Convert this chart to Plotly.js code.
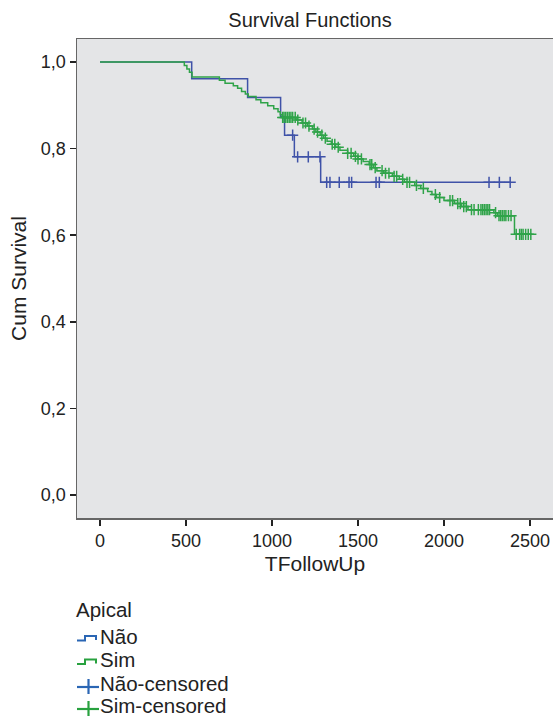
<!DOCTYPE html>
<html>
<head>
<meta charset="utf-8">
<script src="https://cdn.plot.ly/plotly-3.0.1.min.js"></script>
<style>html,body{margin:0;padding:0;background:#fff;}#chart{width:553px;height:716px;}</style>
</head>
<body>
<div id="chart"></div>
<script>
// ---- Data (Kaplan-Meier steps) ----
const naoTimes = [0, 533, 858, 1050, 1073, 1130, 1283, 2390];
const naoSurv  = [1.000, 0.961, 0.918, 0.874, 0.831, 0.781, 0.722, 0.722];
const naoCensoredTimes = [1120, 1149, 1211, 1279, 1318, 1337, 1391, 1448, 1463, 1605, 1624, 2262, 2322, 2385];

const simTimes = [0, 490, 505, 520, 535, 694, 727, 775, 800, 823, 845, 862, 907, 935, 975, 1010, 1035, 1048, 1060,
  1140, 1175, 1205, 1235, 1255, 1280, 1300, 1320, 1345, 1370, 1395, 1440, 1475, 1500, 1530, 1565, 1590, 1610,
  1650, 1700, 1740, 1770, 1830, 1865, 1905, 1930, 1955, 2000, 2060, 2100, 2140, 2290, 2310, 2410, 2510];
const simSurv  = [1.000, 0.992, 0.984, 0.976, 0.965, 0.958, 0.951, 0.945, 0.939, 0.932, 0.926, 0.920, 0.913, 0.906, 0.899, 0.892, 0.885, 0.878, 0.872,
  0.866, 0.859, 0.852, 0.845, 0.838, 0.831, 0.824, 0.817, 0.810, 0.803, 0.796, 0.789, 0.782, 0.776, 0.770, 0.763, 0.756, 0.749,
  0.743, 0.736, 0.729, 0.722, 0.715, 0.708, 0.701, 0.694, 0.687, 0.680, 0.673, 0.666, 0.659, 0.652, 0.645, 0.602, 0.602];
const simCensoredTimes = [1062, 1070, 1080, 1090, 1100, 1110, 1120, 1135, 1150, 1180, 1195, 1215, 1245, 1265, 1290, 1310,
  1350, 1365, 1385, 1440, 1460, 1485, 1500, 1520, 1570, 1580, 1600, 1640, 1660, 1680, 1710, 1725, 1760, 1785, 1800,
  1840, 1880, 1950, 1975, 2035, 2050, 2080, 2095, 2115, 2130, 2160, 2175, 2200, 2215, 2225, 2235, 2245, 2255, 2265,
  2300, 2320, 2330, 2340, 2350, 2360, 2375, 2390, 2420, 2440, 2450, 2460, 2475, 2490, 2505];

const groupNames = ['Não', 'Sim'];
const legendTitle = 'Apical';
const legendLabels = ['Não', 'Sim', 'Não-censored', 'Sim-censored'];
const yTickVals = [0, 0.2, 0.4, 0.6, 0.8, 1.0];
const yTickText = ['0,0', '0,2', '0,4', '0,6', '0,8', '1,0'];
const xTickVals = [0, 500, 1000, 1500, 2000, 2500];

// survival value of a step curve at time t (last step at or before t)
function survAt(times, surv, t) {
  let s = surv[0];
  for (let i = 0; i < times.length; i++) { if (times[i] <= t) s = surv[i]; }
  return s;
}

const blue = '#3f52a8';
const green = '#2fa349';
const legBlue = '#2a66b4';
const legGreen = '#28a13f';

const traces = [
  {x: naoTimes, y: naoSurv, type: 'scatter', mode: 'lines', line: {shape: 'hv', color: blue, width: 1.5}, name: groupNames[0]},
  {x: simTimes, y: simSurv, type: 'scatter', mode: 'lines', line: {shape: 'hv', color: green, width: 1.5}, name: groupNames[1]},
  {x: naoCensoredTimes, y: naoCensoredTimes.map(t => survAt(naoTimes, naoSurv, t)), type: 'scatter', mode: 'markers',
   marker: {symbol: 'cross-thin-open', size: 8, color: blue, line: {color: blue, width: 1.5}}, name: groupNames[0] + '-censored'},
  {x: simCensoredTimes, y: simCensoredTimes.map(t => survAt(simTimes, simSurv, t)), type: 'scatter', mode: 'markers',
   marker: {symbol: 'cross-thin-open', size: 8, color: green, line: {color: green, width: 1.5}}, name: groupNames[1] + '-censored'}
];

// ---- custom legend (text as annotations, icons as shapes), positioned in pixels ----
const W = 553, H = 716, ML = 77, MR = 0, MT = 39, MB = 198;
const PW = W - ML - MR, PH = H - MT - MB;
const px = x => (x - ML) / PW;
const py = y => (H - MB - y) / PH;

const legendRowsY = [636, 659.5, 683.5, 705.5];
const legendColors = [legBlue, legGreen, legBlue, legGreen];
const annotations = [
  {xref: 'paper', yref: 'paper', x: px(75), y: py(609), xanchor: 'left', yanchor: 'middle', showarrow: false,
   text: legendTitle, font: {size: 20.5, color: '#222'}, borderpad: 0}
];
const shapes = [];
legendLabels.forEach((lab, i) => {
  const yc = legendRowsY[i];
  annotations.push({xref: 'paper', yref: 'paper', x: px(99), y: py(yc), xanchor: 'left', yanchor: 'middle', showarrow: false,
    text: lab, font: {size: 20.5, color: '#222'}, borderpad: 0});
  if (i < 2) {
    shapes.push({type: 'path', xref: 'paper', yref: 'paper',
      path: `M ${px(77)} ${py(yc + 4.5)} L ${px(85)} ${py(yc + 4.5)} L ${px(85)} ${py(yc)} L ${px(96)} ${py(yc)} L ${px(96)} ${py(yc + 4)}`,
      line: {color: legendColors[i], width: 2}});
  } else {
    shapes.push({type: 'line', xref: 'paper', yref: 'paper', x0: px(77), x1: px(99), y0: py(yc + 3.5), y1: py(yc + 3.5),
      line: {color: legendColors[i], width: 2.2}});
    shapes.push({type: 'line', xref: 'paper', yref: 'paper', x0: px(88.5), x1: px(88.5), y0: py(yc - 4.5), y1: py(yc + 10.5),
      line: {color: legendColors[i], width: 2.2}});
  }
});

const layout = {
  width: W, height: H,
  margin: {l: ML, r: MR, t: MT, b: MB, autoexpand: false},
  paper_bgcolor: '#ffffff',
  plot_bgcolor: '#e4e5e7',
  font: {family: '"Liberation Sans", Arial, sans-serif', color: '#222222'},
  title: {text: 'Survival Functions', font: {size: 20, color: '#222222'}, x: px(310), xref: 'paper', xanchor: 'center', y: 1 - 20/716, yref: 'container', yanchor: 'middle'},
  xaxis: {
    range: [-134, 2634], tickvals: xTickVals, ticks: 'outside', ticklen: 6, tickwidth: 1.5, tickcolor: '#222',
    showgrid: false, zeroline: false, showline: true, linecolor: '#666', linewidth: 1.5, mirror: true, automargin: false,
    tickfont: {size: 18, color: '#222'},
    title: {text: 'TFollowUp', font: {size: 21, color: '#222'}, standoff: 6}
  },
  yaxis: {
    range: [-0.053, 1.053], tickvals: yTickVals, ticktext: yTickText, ticks: 'outside', ticklen: 6, tickwidth: 1.5, tickcolor: '#222',
    showgrid: false, zeroline: false, showline: true, linecolor: '#666', linewidth: 1.5, mirror: false, automargin: false,
    tickfont: {size: 18, color: '#222'},
    title: {text: 'Cum Survival', font: {size: 21, color: '#222'}, standoff: 8}
  },
  showlegend: false,
  annotations: annotations,
  shapes: shapes
};

Plotly.newPlot('chart', traces, layout, {displayModeBar: false, staticPlot: true});
</script>
</body>
</html>
